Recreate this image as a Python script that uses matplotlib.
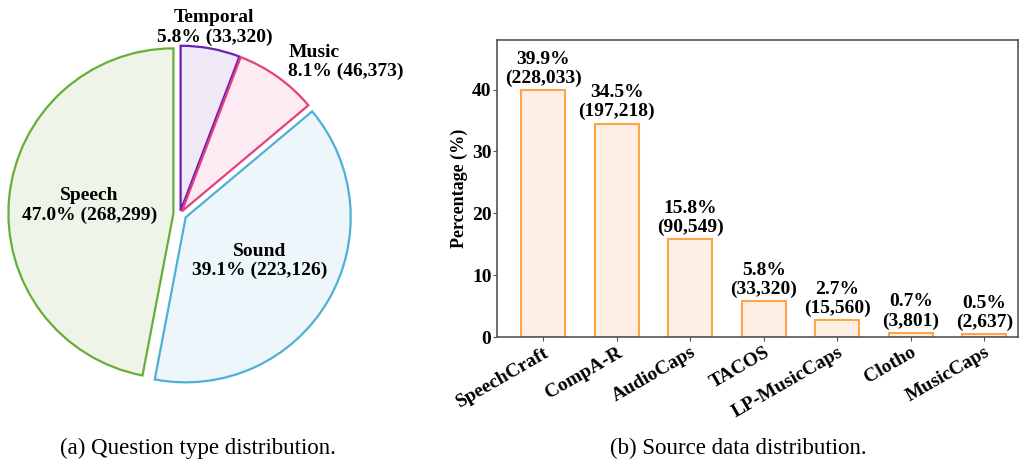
import numpy as np
import matplotlib
matplotlib.use("Agg")
import matplotlib.pyplot as plt

# ---------------------------------------------------------------------------
# data
# ---------------------------------------------------------------------------
# pie : question types (clockwise from 12 o'clock)
q_types = ["Temporal", "Music", "Sound", "Speech"]
q_pct = [5.8, 8.1, 39.1, 47.0]
q_counts = ["33,320", "46,373", "223,126", "268,299"]

# bars : source datasets
sources = ["SpeechCraft", "CompA-R", "AudioCaps", "TACOS",
           "LP-MusicCaps", "Clotho", "MusicCaps"]
src_pct = [39.9, 34.5, 15.8, 5.8, 2.7, 0.7, 0.5]
src_counts = ["228,033", "197,218", "90,549", "33,320",
              "15,560", "3,801", "2,637"]

# ---------------------------------------------------------------------------
# style
# ---------------------------------------------------------------------------
plt.rcParams['font.family'] = ['Liberation Serif', 'DejaVu Serif']
plt.rcParams['font.weight'] = 'bold'

edge_cols = ["#6A1FB5", "#E4407E", "#4FB0D6", "#67AE38"]
fill_cols = ["#EFE8F6", "#FCEBF2", "#EDF6FA", "#EEF5E8"]
explode = [0.02, 0.02, 0.04, 0.04]

W, H = 1020, 462
fig = plt.figure(figsize=(W / 100, H / 100), dpi=100)

# ---------------------------------------------------------------------------
# (a) pie
# ---------------------------------------------------------------------------
cx, cy, rpx = 180, 248, 165      # pie centre / radius in pixels (from bottom)
lim = 1.3
side = 2 * lim * rpx
ax1 = fig.add_axes([(cx - side / 2) / W, (cy - side / 2) / H, side / W, side / H])
wedges, _ = ax1.pie(q_pct, startangle=90, counterclock=False, explode=explode,
                    colors=fill_cols, wedgeprops=dict(linewidth=1.6))
for w, ec in zip(wedges, edge_cols):
    w.set_edgecolor(ec)
ax1.set_xlim(-lim, lim)
ax1.set_ylim(-lim, lim)
ax1.set_aspect('auto')

# label radius and alignment per wedge
lab_r = [1.15, 1.13, 0.56, 0.55]
lab_ha = ['center', 'left', 'center', 'center']
for w, name, p, c, rr, ha in zip(wedges, q_types, q_pct, q_counts, lab_r, lab_ha):
    ang = np.deg2rad((w.theta1 + w.theta2) / 2)
    x, y = rr * np.cos(ang), rr * np.sin(ang)
    ax1.text(x, y, f"{name}\n{p:.1f}% ({c})", ha=ha, va='center',
             fontsize=14, fontweight='bold', linespacing=1.15,
             multialignment=ha)

fig.text(198 / W, 1 - 448 / H, "(a) Question type distribution.",
         ha='center', va='center', fontsize=16.5, fontweight='normal')

# ---------------------------------------------------------------------------
# (b) bars
# ---------------------------------------------------------------------------
ax2 = fig.add_axes([497 / W, (H - 337) / H, 521 / W, 297 / H])
x = np.arange(len(sources))
ax2.bar(x, src_pct, width=0.6, color="#FDEFE3", edgecolor="#FFA447", linewidth=1.5)
for xi, p, c in zip(x, src_pct, src_counts):
    ax2.text(xi, p + 0.5, f"{p:.1f}%\n({c})", ha='center', va='bottom',
             fontsize=14, fontweight='bold', linespacing=1.15)

ax2.set_xlim(-0.63, 6.46)
ax2.set_ylim(0, 48)
ax2.set_yticks([0, 10, 20, 30, 40])
ax2.set_xticks(x)
ax2.set_xticklabels(sources, rotation=30, ha='right', rotation_mode='anchor',
                    fontsize=14, fontweight='bold')
ax2.tick_params(axis='y', labelsize=14, length=3, pad=1, color="#555555")
ax2.tick_params(axis='x', length=3, pad=2, color="#555555")
ax2.set_ylabel("Percentage (%)", fontsize=13, fontweight='bold', labelpad=3)
for s in ax2.spines.values():
    s.set_color("#555555")
    s.set_linewidth(1.2)

fig.text(738 / W, 1 - 448 / H, "(b) Source data distribution.",
         ha='center', va='center', fontsize=16.5, fontweight='normal')

fig.savefig("out.png", dpi=100)
